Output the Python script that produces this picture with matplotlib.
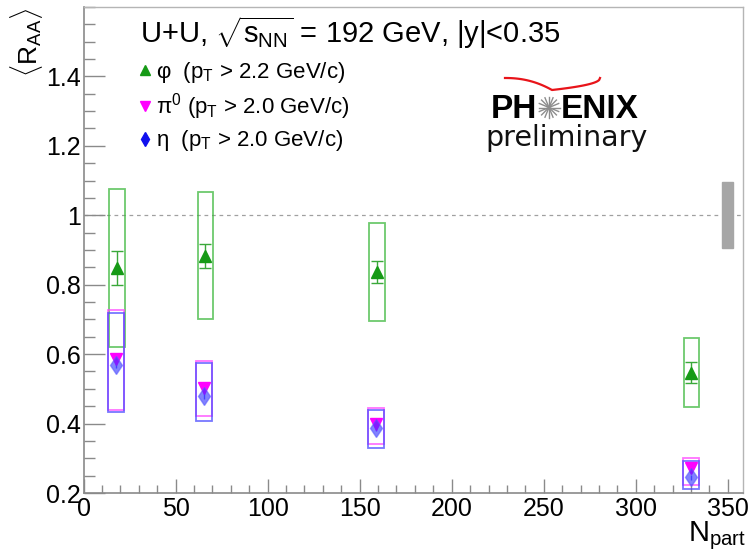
import matplotlib
matplotlib.use("Agg")
import matplotlib.pyplot as plt
from matplotlib.patches import Rectangle
from matplotlib.ticker import MultipleLocator
import numpy as np

plt.rcParams['font.family'] = ['Liberation Sans', 'DejaVu Sans']
plt.rcParams['mathtext.fontset'] = 'custom'
plt.rcParams['mathtext.rm'] = 'Liberation Sans'
plt.rcParams['mathtext.it'] = 'Liberation Sans:italic'
plt.rcParams['mathtext.bf'] = 'Liberation Sans:bold'

# ---- data -------------------------------------------------------------
phi_npart = [18.1, 66.2, 159.3, 330.3]
phi_raa = [0.847, 0.882, 0.837, 0.547]
phi_stat = [0.049, 0.035, 0.032, 0.029]
phi_sys_lo = [0.225, 0.180, 0.141, 0.098]
phi_sys_hi = [0.228, 0.184, 0.142, 0.099]

pi0_npart = [17.6, 65.4, 158.8, 330.0]
pi0_raa = [0.585, 0.503, 0.398, 0.272]
pi0_stat = [0.008, 0.007, 0.006, 0.006]
pi0_sys_lo = [0.146, 0.081, 0.056, 0.049]
pi0_sys_hi = [0.142, 0.077, 0.046, 0.030]

eta_npart = [17.6, 65.4, 158.8, 330.0]
eta_raa = [0.570, 0.480, 0.386, 0.245]
eta_stat = [0.010, 0.009, 0.008, 0.008]
eta_sys_lo = [0.137, 0.072, 0.057, 0.034]
eta_sys_hi = [0.149, 0.095, 0.054, 0.048]

norm_npart = 350.0
norm_unc = 0.095

xticks = [0, 50, 100, 150, 200, 250, 300, 350]
yticks = [0.2, 0.4, 0.6, 0.8, 1.0, 1.2, 1.4]
ytick_labels = ['0.2', '0.4', '0.6', '0.8', '1', '1.2', '1.4']

# ---- figure -----------------------------------------------------------
fig = plt.figure(figsize=(7.49, 5.54), dpi=100)
ax = fig.add_axes([0.1117, 0.1101, 0.992 - 0.1117, 0.9874 - 0.1101])
ax.set_xlim(0, 358.3)
ax.set_ylim(0.2, 1.6)

axis_col = '#8a8a8a'
for side in ['left', 'bottom']:
    ax.spines[side].set_color(axis_col)
    ax.spines[side].set_linewidth(1.2)
for side in ['top', 'right']:
    ax.spines[side].set_color('#b5b5b5')
    ax.spines[side].set_linewidth(1.0)

ax.set_xticks(xticks)
ax.set_xticklabels([str(v) for v in xticks])
ax.set_yticks(yticks)
ax.set_yticklabels(ytick_labels)
ax.xaxis.set_minor_locator(MultipleLocator(10))
ax.yaxis.set_minor_locator(MultipleLocator(0.05))
ax.tick_params(axis='both', which='both', direction='in', colors=axis_col,
               labelcolor='black', labelsize=18, top=False, right=False)
ax.tick_params(axis='y', which='major', length=15, width=1.0, pad=2)
ax.tick_params(axis='y', which='minor', length=8, width=1.0)
ax.tick_params(axis='x', which='major', length=10, width=1.0, pad=3)
ax.tick_params(axis='x', which='minor', length=5.5, width=1.0)

# unity reference line
ax.axhline(1.0, color='#a0a0a0', lw=0.9, ls=(0, (3, 3)), zorder=1)

# global normalisation uncertainty
ax.add_patch(Rectangle((norm_npart - 3, 1.0 - norm_unc), 6, 2 * norm_unc,
                       facecolor='#a6a6a6', edgecolor='#a6a6a6', zorder=2))

box_hw = 4.2


def draw_boxes(npart, raa, lo, hi, color):
    for x, y, l, h in zip(npart, raa, lo, hi):
        ax.add_patch(Rectangle((x - box_hw, y - l), 2 * box_hw, l + h,
                               facecolor='none', edgecolor=color, lw=1.3,
                               alpha=0.75, zorder=3))


draw_boxes(phi_npart, phi_raa, phi_sys_lo, phi_sys_hi, '#3cb83c')
draw_boxes(pi0_npart, pi0_raa, pi0_sys_lo, pi0_sys_hi, '#ff44ff')
draw_boxes(eta_npart, eta_raa, eta_sys_lo, eta_sys_hi, '#4a4aff')

ax.errorbar(phi_npart, phi_raa, yerr=phi_stat, fmt='none', ecolor='#3aa83a',
            elinewidth=1.0, capsize=4, capthick=1.0, zorder=4)
ax.errorbar(pi0_npart, pi0_raa, yerr=pi0_stat, fmt='none', ecolor='#ff00ff',
            elinewidth=1.0, capsize=0, zorder=4)
ax.errorbar(eta_npart, eta_raa, yerr=eta_stat, fmt='none', ecolor='#6060ff',
            elinewidth=1.0, capsize=0, zorder=4)

h_phi, = ax.plot(phi_npart, phi_raa, ls='none', marker='^', ms=8,
                 color='#169a16', mec='#169a16', zorder=5)
h_pi0, = ax.plot(pi0_npart, pi0_raa, ls='none', marker='v', ms=8.5,
                 color='#ff00ff', mec='#ff00ff', zorder=5)
h_eta, = ax.plot(eta_npart, eta_raa, ls='none', marker='d', ms=9.5,
                 color='#2f2fff', mec='#5a5aff', alpha=0.6, zorder=6)

# legend
leg_phi, = ax.plot([], [], ls='none', marker='^', ms=6.5, color='#169a16')
leg_pi0, = ax.plot([], [], ls='none', marker='v', ms=6.5, color='#ff00ff')
leg_eta, = ax.plot([], [], ls='none', marker='d', ms=7.5, color='#1010ee')
leg = ax.legend([leg_phi, leg_pi0, leg_eta],
                [r'φ  (p$_{\rm T}$ > 2.2 GeV/c)',
                 r'π$^{0}$ (p$_{\rm T}$ > 2.0 GeV/c)',
                 r'η  (p$_{\rm T}$ > 2.0 GeV/c)'],
                loc='upper left', bbox_to_anchor=(0.085, 0.891),
                frameon=False, fontsize=16, handlelength=0.5,
                handletextpad=0.25, labelspacing=0.28, borderpad=0,
                borderaxespad=0)

# header text
fig.text(140 / 749, 1 - 43 / 554,
         r'U+U, $\sqrt{\mathrm{s}_{\rm NN}}$ = 192 GeV, |y|<0.35',
         fontsize=21, ha='left', va='baseline')

# axis titles
fig.text(27 / 749, 1 - 8 / 554, r'$\langle$R$_{\rm AA}$$\rangle$',
         rotation=90, ha='center', va='top', fontsize=19)
fig.text(746 / 749, 1 - 552 / 554, r'N$_{\rm part}$',
         ha='right', va='bottom', fontsize=21)

# collaboration mark
fig.text(491 / 749, 1 - 118.5 / 554, 'PH', fontsize=24, fontweight='bold',
         ha='left', va='baseline', color='black')
fig.text(561 / 749, 1 - 118.5 / 554, 'ENIX', fontsize=24, fontweight='bold',
         ha='left', va='baseline', color='black')
fig.text(567 / 749, 1 - 146 / 554, 'preliminary', fontsize=20.5,
         ha='center', va='baseline', color='#111111',
         family=['DejaVu Sans'])
cx, cy, r = 549 / 749, 1 - 107.5 / 554, 10.5
for ang in np.linspace(0, np.pi, 8, endpoint=False):
    dx = r * np.cos(ang) / 749
    dy = r * np.sin(ang) / 554
    fig.add_artist(plt.Line2D([cx - dx, cx + dx], [cy - dy, cy + dy],
                              transform=fig.transFigure, color='#8c8c8c',
                              lw=1.0))
t = np.linspace(0, 1, 60)
xl = 505 + (552 - 505) * t
yl = 78 + 12 * t ** 2.2
xr = 552 + (600 - 552) * t
yr = 90 - 12 * (1 - (1 - t) ** 0.45)
fig.add_artist(plt.Line2D(np.concatenate([xl, xr]) / 749,
                          1 - np.concatenate([yl, yr]) / 554,
                          transform=fig.transFigure, color='#e8141a', lw=1.6))

fig.savefig('out.png', dpi=100)
